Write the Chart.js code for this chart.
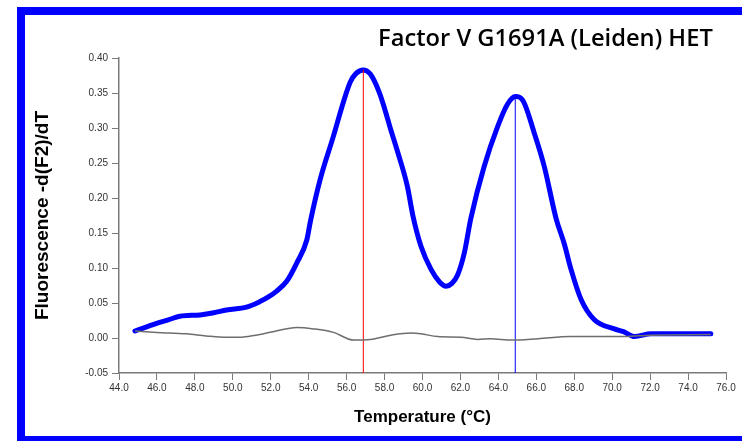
<!DOCTYPE html>
<html>
<head>
<meta charset="utf-8">
<script src="https://cdn.jsdelivr.net/npm/chart.js@4.4.1/dist/chart.umd.min.js"></script>
<style>
  html, body { margin:0; padding:0; background:#fff; overflow:hidden; }
  #wrap { position:relative; width:742px; height:441px; }
  #frame { position:absolute; left:17px; top:7px; width:800px; height:437px; box-sizing:border-box; border:8px solid #0000ff; }
  canvas { position:absolute; left:0; top:0; }
</style>
</head>
<body>
<div id="wrap">
  <div id="frame"></div>
  <canvas id="c" width="742" height="441"></canvas>
</div>
<script>
const titleText = 'Factor V G1691A (Leiden) HET'
const xTitle = 'Temperature (\u00B0C)'
const yTitle = 'Fluorescence -d(F2)/dT'

const sampleT = [44.84, 45.46, 45.98, 46.6, 47.21, 48.27, 49.0, 49.67, 50.72, 51.43, 51.9, 52.31, 52.84, 53.37, 53.9, 54.1, 54.6, 55.3, 55.84, 56.2, 56.5, 56.88, 57.25, 57.72, 58.0, 58.3, 58.7, 59.2, 59.5, 59.92, 60.45, 60.9, 61.24, 61.55, 61.85, 62.2, 62.55, 63.25, 63.96, 64.48, 64.89, 65.3, 65.89, 66.42, 67.04, 67.48, 67.83, 68.36, 69.06, 70.11, 70.6, 71.17, 72.05, 75.2]
const sampleV = [0.010, 0.016, 0.021, 0.026, 0.031, 0.033, 0.036, 0.040, 0.044, 0.052, 0.059, 0.067, 0.081, 0.107, 0.140, 0.168, 0.226, 0.288, 0.338, 0.366, 0.378, 0.383, 0.377, 0.351, 0.328, 0.300, 0.265, 0.217, 0.174, 0.131, 0.098, 0.080, 0.074, 0.078, 0.090, 0.121, 0.171, 0.245, 0.302, 0.334, 0.345, 0.339, 0.293, 0.245, 0.171, 0.134, 0.098, 0.055, 0.026, 0.013, 0.009, 0.002, 0.006, 0.006]

const ctrlT = [44.84, 45.98, 47.56, 48.6, 49.67, 50.37, 51.2, 52.12, 53.37, 54.25, 55.31, 56.37, 57.25, 58.34, 59.39, 59.92, 60.8, 62.03, 62.9, 63.6, 64.7, 66.1, 67.8, 70.64, 72.0, 75.2]
const ctrlV = [0.010, 0.008, 0.006, 0.003, 0.001, 0.001, 0.004, 0.009, 0.015, 0.013, 0.008, -0.003, -0.002, 0.004, 0.007, 0.006, 0.002, 0.001, -0.002, -0.001, -0.003, -0.001, 0.002, 0.002, 0.004, 0.005]

// picos marcados (Tm)
const peakT = [56.88, 64.89]
const peakV = [0.383, 0.345]

const xTicks = [44, 46, 48, 50, 52, 54, 56, 58, 60, 62, 64, 66, 68, 70, 72, 74, 76]
const yTicks = [-0.05, 0, 0.05, 0.10, 0.15, 0.20, 0.25, 0.30, 0.35, 0.40]

const pts = (xs, ys) => xs.map((x, i) => ({ x, y: ys[i] }))
const vline = i => [{ x: peakT[i], y: yTicks[0] }, { x: peakT[i], y: peakV[i] }]

const titlePlugin = {
  id: 'titulo',
  afterDraw(chart) {
    const ctx = chart.ctx
    ctx.save()
    let size = 22
    ctx.font = `600 ${size}px "Open Sans"`
    const w = ctx.measureText(titleText).width
    size = size * 335 / w
    ctx.font = `600 ${size}px "Open Sans"`
    ctx.fillStyle = '#000'
    ctx.textBaseline = 'alphabetic'
    ctx.fillText(titleText, 378, 46)
    ctx.restore()
  }
}

const tickFont = { family: 'Liberation Sans, Arial', size: 10 }

new Chart(document.getElementById('c').getContext('2d'), {
  type: 'scatter',
  data: {
    datasets: [
      { data: pts(ctrlT, ctrlV), showLine: true, borderColor: '#6e6e6e', borderWidth: 1.5, pointRadius: 0, cubicInterpolationMode: 'monotone' },
      { data: vline(0), showLine: true, borderColor: '#ff0000', borderWidth: 1, pointRadius: 0 },
      { data: vline(1), showLine: true, borderColor: '#0000ff', borderWidth: 1, pointRadius: 0 },
      { data: pts(sampleT, sampleV), showLine: true, borderColor: '#0000ff', borderWidth: 5, pointRadius: 0, cubicInterpolationMode: 'monotone', borderCapStyle: 'round', borderJoinStyle: 'round' },
    ]
  },
  options: {
    responsive: false,
    animation: false,
    layout: { padding: { left: 0, top: 58, right: 16, bottom: 0 } },
    plugins: { legend: { display: false }, tooltip: { enabled: false } },
    scales: {
      x: {
        type: 'linear', min: 44, max: 76,
        afterBuildTicks: s => { s.ticks = xTicks.map(v => ({ value: v })) },
        afterFit: s => { s.height = 68 },
        border: { color: '#7a7a7a', width: 1.5 },
        grid: { drawOnChartArea: false, color: '#7a7a7a', tickLength: 7 },
        ticks: { font: tickFont, color: '#333', padding: 2, maxRotation: 0, callback: v => Number(v).toFixed(1) },
        title: { display: true, text: xTitle, font: { family: 'Liberation Sans, Arial', size: 17, weight: 'bold' }, color: '#000', padding: { top: 0, bottom: 13 } }
      },
      y: {
        min: -0.05, max: 0.40,
        afterBuildTicks: s => { s.ticks = yTicks.map(v => ({ value: v })) },
        afterFit: s => { s.width = 119 },
        border: { color: '#7a7a7a', width: 1.5 },
        grid: { drawOnChartArea: false, color: '#7a7a7a', tickLength: 7 },
        ticks: { font: tickFont, color: '#333', padding: 4, callback: v => Number(v).toFixed(2) },
        title: { display: true, text: yTitle, font: { family: 'Liberation Sans, Arial', size: 19, weight: 'bold' }, color: '#000', padding: { top: 31, bottom: 0 } }
      }
    }
  },
  plugins: [titlePlugin]
})
</script>
</body>
</html>
